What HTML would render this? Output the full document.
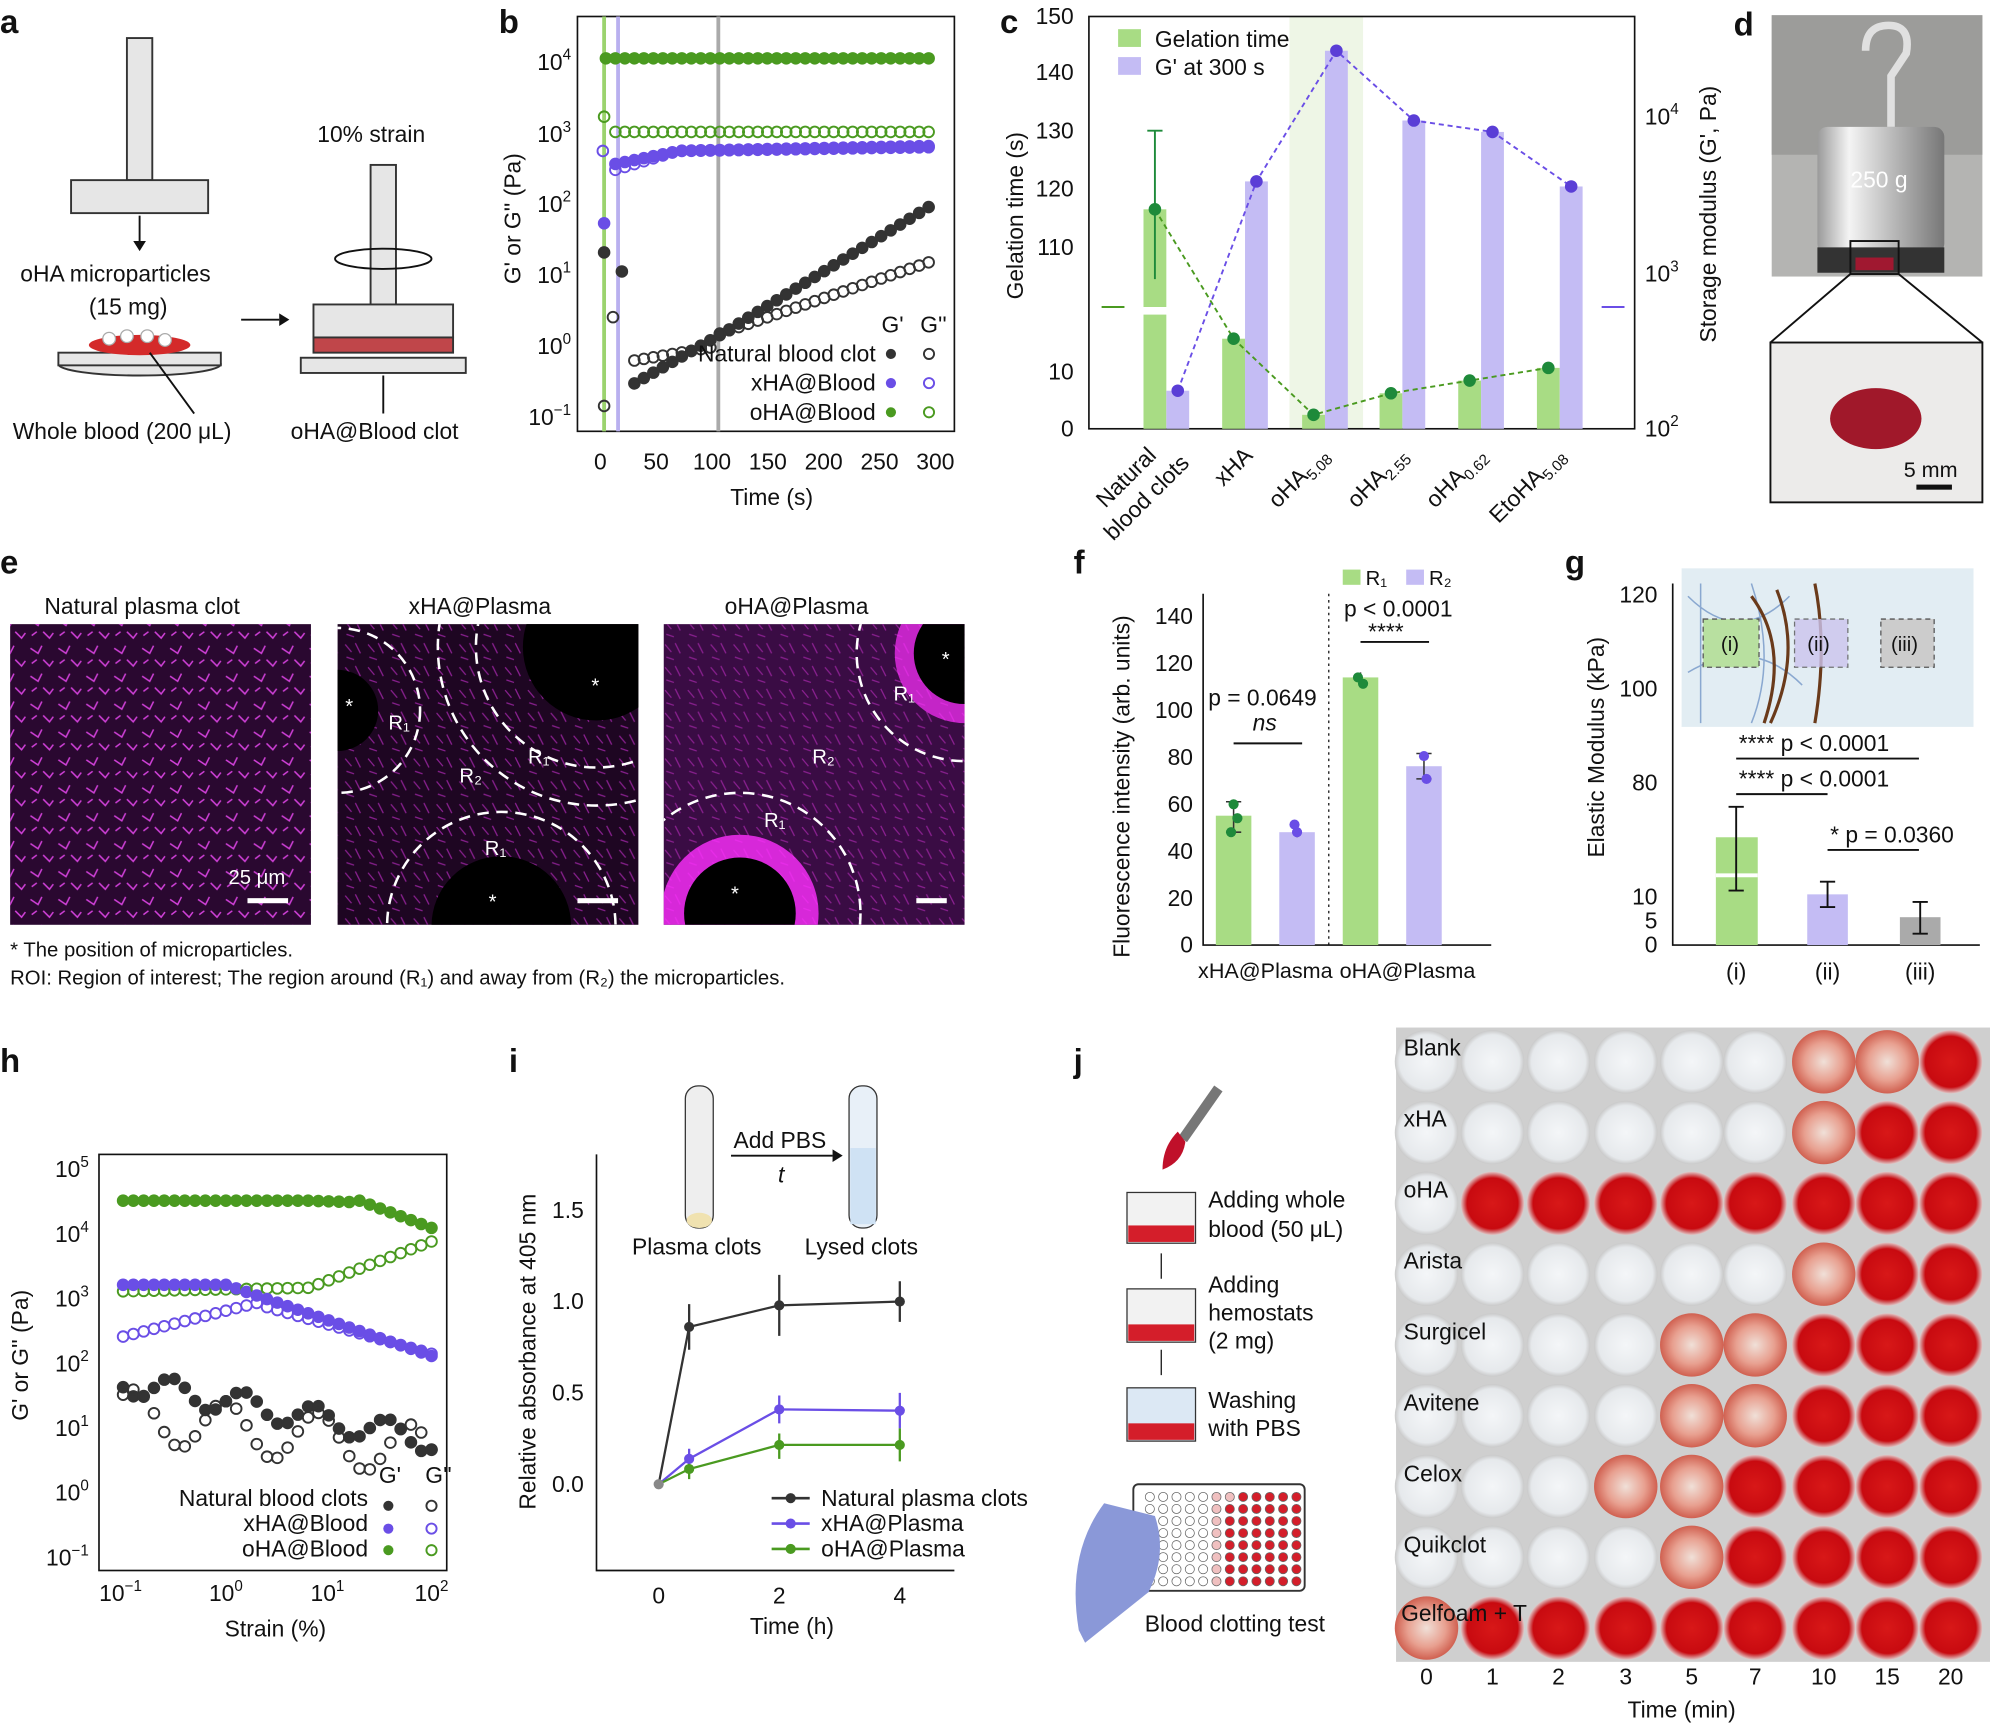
<!DOCTYPE html>
<html><head><meta charset="utf-8"><style>
html,body{margin:0;padding:0;background:#fff}
svg{display:block}
text{font-family:"Liberation Sans",sans-serif;fill:#111}
.pl{font-size:26px;font-weight:bold}
.t{font-size:18px}
.s{font-size:16px}
</style></head><body>
<svg id="S" width="1990" height="1724" viewBox="0 0 1568 1359" preserveAspectRatio="none" xmlns="http://www.w3.org/2000/svg">
<defs>
<radialGradient id="rw"><stop offset="0" stop-color="#d81818"/><stop offset="0.8" stop-color="#c80a10"/><stop offset="1" stop-color="#e0c8c8"/></radialGradient>
<radialGradient id="cw"><stop offset="0" stop-color="#f4f6f8"/><stop offset="0.85" stop-color="#e6e9ec"/><stop offset="1" stop-color="#c9c9c9"/></radialGradient>
<radialGradient id="pw"><stop offset="0" stop-color="#f0e0d8"/><stop offset="0.6" stop-color="#e8a090"/><stop offset="1" stop-color="#d06050"/></radialGradient>
<linearGradient id="sil" x1="0" x2="1"><stop offset="0" stop-color="#9a9a9a"/><stop offset="0.25" stop-color="#f4f4f4"/><stop offset="0.6" stop-color="#b8b8b8"/><stop offset="1" stop-color="#777"/></linearGradient>
<pattern id="fib" width="22" height="22" patternUnits="userSpaceOnUse"><path d="M2 5l6 4 3-6M12 14l5 5 3-4M3 17l4-3" stroke="#d040d8" stroke-width="1.2" fill="none"/></pattern>
<pattern id="fib2" width="18" height="18" patternUnits="userSpaceOnUse"><path d="M2 4l5 6M10 3l4 8M3 14l6 2" stroke="#8a2090" stroke-width="1" fill="none"/></pattern>
</defs>
<text class="pl" x="0" y="26">a</text><text class="pl" x="393" y="26">b</text><text class="pl" x="788" y="26">c</text><text class="pl" x="1366" y="28">d</text>
<text class="pl" x="0" y="452">e</text><text class="pl" x="846" y="452">f</text><text class="pl" x="1233" y="452">g</text>
<text class="pl" x="0" y="845">h</text><text class="pl" x="401" y="845">i</text><text class="pl" x="846" y="845">j</text>

<!-- panel a -->
<g stroke="#333" stroke-width="1.5" fill="#e6e6e6">
<rect x="100" y="30" width="20" height="112"/><rect x="56" y="142" width="108" height="26"/>
<ellipse cx="110" cy="287" rx="64" ry="9"/><rect x="46" y="278" width="128" height="10"/>
<rect x="292" y="130" width="20" height="110"/><rect x="247" y="240" width="110" height="26"/>
<rect x="247" y="266" width="110" height="12" fill="#c0464a"/>
<rect x="237" y="282" width="130" height="12"/>
</g>
<ellipse cx="110" cy="272" rx="40" ry="8" fill="#d42a2a"/>
<g fill="#fff" stroke="#aaa"><circle cx="86" cy="267" r="5"/><circle cx="100" cy="265" r="5"/><circle cx="116" cy="265" r="5"/><circle cx="130" cy="268" r="5"/></g>
<path d="M110 170v22" stroke="#111" stroke-width="1.5"/>
<path d="M105 190l5 8 5-8z" fill="#111"/>
<ellipse cx="302" cy="204" rx="38" ry="8" fill="none" stroke="#111" stroke-width="1.5"/>
<path d="M190 252h30" stroke="#111" stroke-width="1.5"/><path d="M220 247l8 5-8 5z" fill="#111"/>
<path d="M118 278l35 48M302 296v30" stroke="#111" stroke-width="1.5"/>
<text class="t" x="250" y="112">10% strain</text>
<text class="t" x="16" y="222">oHA microparticles</text><text class="t" x="70" y="248">(15 mg)</text>
<text class="t" x="10" y="346">Whole blood (200 μL)</text><text class="t" x="229" y="346">oHA@Blood clot</text>

<!-- panel b -->
<rect x="455" y="13" width="297" height="327" fill="none" stroke="#111" stroke-width="1.3"/>
<line x1="476" y1="13" x2="476" y2="340" stroke="#9bd36e" stroke-width="3"/>
<line x1="487" y1="13" x2="487" y2="340" stroke="#b9b0ef" stroke-width="3"/>
<line x1="566" y1="13" x2="566" y2="340" stroke="#aaa" stroke-width="3"/>
<g id="bpts"></g>
<g class="t" text-anchor="end">
<text x="450" y="55">10<tspan font-size="12" dy="-8">4</tspan></text><text x="450" y="112">10<tspan font-size="12" dy="-8">3</tspan></text>
<text x="450" y="167">10<tspan font-size="12" dy="-8">2</tspan></text><text x="450" y="223">10<tspan font-size="12" dy="-8">1</tspan></text>
<text x="450" y="279">10<tspan font-size="12" dy="-8">0</tspan></text><text x="450" y="335">10<tspan font-size="12" dy="-8">−1</tspan></text>
</g>
<g class="t" text-anchor="middle"><text x="473" y="370">0</text><text x="517" y="370">50</text><text x="561" y="370">100</text><text x="605" y="370">150</text><text x="649" y="370">200</text><text x="693" y="370">250</text><text x="737" y="370">300</text>
<text x="608" y="398">Time (s)</text></g>
<text class="t" transform="translate(410 224) rotate(-90)">G' or G'' (Pa)</text>
<g class="t" text-anchor="end"><text x="712" y="262">G'</text><text x="746" y="262">G''</text>
<text x="690" y="285">Natural blood clot</text><text x="690" y="308">xHA@Blood</text><text x="690" y="331">oHA@Blood</text></g>
<circle cx="702" cy="279" r="4" fill="#333"/><circle cx="732" cy="279" r="4" fill="none" stroke="#333" stroke-width="1.5"/>
<circle cx="702" cy="302" r="4" fill="#6a4ee6"/><circle cx="732" cy="302" r="4" fill="none" stroke="#6a4ee6" stroke-width="1.5"/>
<circle cx="702" cy="325" r="4" fill="#4a9a20"/><circle cx="732" cy="325" r="4" fill="none" stroke="#4a9a20" stroke-width="1.5"/>

<!-- panel c -->
<rect x="1016" y="13" width="58" height="325" fill="#eef6e6"/>
<rect x="858" y="13" width="430" height="325" fill="none" stroke="#111" stroke-width="1.3"/>
<g id="cbars"></g>
<g class="t" text-anchor="end"><text x="846" y="19">150</text><text x="846" y="63">140</text><text x="846" y="109">130</text><text x="846" y="155">120</text><text x="846" y="201">110</text><text x="846" y="299">10</text><text x="846" y="344">0</text></g>
<g class="t"><text x="1296" y="344">10<tspan font-size="12" dy="-8">2</tspan></text><text x="1296" y="222">10<tspan font-size="12" dy="-8">3</tspan></text><text x="1296" y="98">10<tspan font-size="12" dy="-8">4</tspan></text></g>
<text class="t" transform="translate(806 236) rotate(-90)">Gelation time (s)</text>
<text class="t" transform="translate(1352 270) rotate(-90)">Storage modulus (G', Pa)</text>
<rect x="881" y="23" width="18" height="14" fill="#a8dc84"/><text class="t" x="910" y="37">Gelation time</text>
<rect x="881" y="45" width="18" height="14" fill="#c4bcf4"/><text class="t" x="910" y="59">G' at 300 s</text>
<path d="M868 242h18" stroke="#4a9a20" stroke-width="1.5"/>
<path d="M1262 242h18" stroke="#6a4ee6" stroke-width="1.5"/>
<g class="t" text-anchor="end">
<text transform="translate(912 360) rotate(-45)">Natural</text><text transform="translate(938 366) rotate(-45)">blood clots</text>
<text transform="translate(988 360) rotate(-45)">xHA</text>
<text transform="translate(1048 360) rotate(-45)">oHA<tspan font-size="12" dy="4">5.08</tspan></text>
<text transform="translate(1110 360) rotate(-45)">oHA<tspan font-size="12" dy="4">2.55</tspan></text>
<text transform="translate(1172 360) rotate(-45)">oHA<tspan font-size="12" dy="4">0.62</tspan></text>
<text transform="translate(1234 360) rotate(-45)">EtoHA<tspan font-size="12" dy="4">5.08</tspan></text>
</g>

<!-- panel d -->
<rect x="1396" y="12" width="166" height="206" fill="#b4b4b2"/>
<rect x="1396" y="12" width="166" height="110" fill="#9c9c9a"/>
<path d="M1470 40q0-20 18-20t14 22l-12 18v40" stroke="#e0e0e0" stroke-width="6" fill="none"/>
<rect x="1432" y="100" width="100" height="100" rx="8" fill="url(#sil)"/>
<rect x="1432" y="195" width="100" height="20" fill="#333"/>
<rect x="1462" y="203" width="30" height="10" fill="#a01830"/>
<text x="1458" y="148" font-size="18" style="fill:#fff">250 g</text>
<rect x="1458" y="190" width="38" height="26" fill="none" stroke="#111" stroke-width="1.5"/>
<path d="M1458 216L1395 270M1496 216L1562 270" stroke="#111" stroke-width="1.5"/>
<rect x="1395" y="270" width="167" height="126" fill="#ecebea" stroke="#111" stroke-width="1.5"/>
<ellipse cx="1478" cy="330" rx="36" ry="24" fill="#a0182a"/>
<text x="1500" y="376" font-size="17">5 mm</text><rect x="1510" y="382" width="28" height="4" fill="#111"/>

<!-- panel e -->
<text class="t" x="35" y="484">Natural plasma clot</text><text class="t" x="322" y="484">xHA@Plasma</text><text class="t" x="571" y="484">oHA@Plasma</text>
<rect x="8" y="492" width="237" height="237" fill="#2a0830"/><rect x="8" y="492" width="237" height="237" fill="url(#fib)"/>
<rect x="266" y="492" width="237" height="237" fill="#1e0622"/><rect x="266" y="492" width="237" height="237" fill="url(#fib2)"/>
<rect x="523" y="492" width="237" height="237" fill="#3a0c44"/><rect x="523" y="492" width="237" height="237" fill="url(#fib2)"/>
<clipPath id="e2"><rect x="266" y="492" width="237" height="237"/></clipPath>
<clipPath id="e3"><rect x="523" y="492" width="237" height="237"/></clipPath>
<g clip-path="url(#e2)"><circle cx="266" cy="560" r="32" fill="#000"/><circle cx="470" cy="510" r="58" fill="#000"/><circle cx="395" cy="730" r="55" fill="#000"/>
<g stroke="#fff" stroke-dasharray="9 6" stroke-width="2" fill="none"><circle cx="266" cy="560" r="65"/><circle cx="470" cy="510" r="95"/><circle cx="395" cy="730" r="90"/><circle cx="470" cy="510" r="125"/></g></g>
<g clip-path="url(#e3)"><circle cx="583" cy="720" r="62" fill="#ff30ff" opacity="0.8"/><circle cx="583" cy="720" r="44" fill="#000"/><circle cx="760" cy="515" r="55" fill="#ff30ff" opacity="0.7"/><circle cx="760" cy="515" r="40" fill="#000"/>
<g stroke="#fff" stroke-dasharray="9 6" stroke-width="2" fill="none"><circle cx="583" cy="720" r="95"/><circle cx="760" cy="515" r="85"/></g></g>
<g font-size="16"><text x="180" y="697" style="fill:#fff">25 μm</text>
<text x="306" y="575" style="fill:#fff">R₁</text><text x="362" y="617" style="fill:#fff">R₂</text><text x="416" y="602" style="fill:#fff">R₁</text><text x="382" y="674" style="fill:#fff">R₁</text>
<text x="704" y="552" style="fill:#fff">R₁</text><text x="640" y="602" style="fill:#fff">R₂</text><text x="602" y="652" style="fill:#fff">R₁</text>
<text x="272" y="562" style="fill:#fff">*</text><text x="466" y="546" style="fill:#fff">*</text><text x="385" y="716" style="fill:#fff">*</text><text x="576" y="710" style="fill:#fff">*</text><text x="742" y="525" style="fill:#fff">*</text></g>
<rect x="195" y="708" width="32" height="4" fill="#fff"/><rect x="455" y="708" width="32" height="4" fill="#fff"/><rect x="722" y="708" width="24" height="4" fill="#fff"/>
<text class="s" x="8" y="754">* The position of microparticles.</text>
<text class="s" x="8" y="776">ROI: Region of interest; The region around (R₁) and away from (R₂) the microparticles.</text>

<!-- panel f -->
<path d="M948 468V745H1175" fill="none" stroke="#111" stroke-width="1.3"/>
<line x1="1047" y1="468" x2="1047" y2="745" stroke="#111" stroke-dasharray="2 3"/>
<rect x="958" y="643" width="28" height="102" fill="#a8dc84"/><rect x="1008" y="656" width="28" height="89" fill="#c4bcf4"/>
<rect x="1058" y="534" width="28" height="211" fill="#a8dc84"/><rect x="1108" y="604" width="28" height="141" fill="#c4bcf4"/>
<path d="M972 632v24M966 632h12M966 656h12M1022 648v12M1072 530v8M1122 594v20M1116 594h12M1116 614h12" stroke="#333" stroke-width="1.2"/>
<g fill="#1e8a3a"><circle cx="972" cy="634" r="4"/><circle cx="970" cy="656" r="4"/><circle cx="975" cy="645" r="4"/><circle cx="1070" cy="534" r="4"/><circle cx="1074" cy="539" r="4"/></g>
<g fill="#6a4ee6"><circle cx="1022" cy="656" r="4"/><circle cx="1020" cy="650" r="4"/><circle cx="1122" cy="596" r="4"/><circle cx="1124" cy="614" r="4"/></g>
<g class="t" text-anchor="end"><text x="940" y="751">0</text><text x="940" y="714">20</text><text x="940" y="677">40</text><text x="940" y="640">60</text><text x="940" y="603">80</text><text x="940" y="566">100</text><text x="940" y="529">120</text><text x="940" y="492">140</text></g>
<text class="t" transform="translate(890 755) rotate(-90)">Fluorescence intensity (arb. units)</text>
<text class="t" x="952" y="556">p = 0.0649</text><text class="t" x="987" y="576" font-style="italic">ns</text><line x1="972" y1="586" x2="1026" y2="586" stroke="#111" stroke-width="1.5"/>
<text class="t" x="1059" y="486">p &lt; 0.0001</text><text class="t" x="1078" y="504">****</text><line x1="1072" y1="506" x2="1126" y2="506" stroke="#111" stroke-width="1.5"/>
<rect x="1058" y="449" width="14" height="12" fill="#a8dc84"/><text class="s" x="1076" y="461">R₁</text>
<rect x="1108" y="449" width="14" height="12" fill="#c4bcf4"/><text class="s" x="1126" y="461">R₂</text>
<g font-size="17" text-anchor="middle"><text x="997" y="771">xHA@Plasma</text><text x="1109" y="771">oHA@Plasma</text></g>

<!-- panel g -->
<path d="M1318 460V745H1560" fill="none" stroke="#111" stroke-width="1.3"/>
<rect x="1325" y="448" width="230" height="125" fill="#dbe8f0" opacity="0.8"/>
<g stroke="#8aa8d0" fill="none" stroke-width="1.2"><path d="M1330 470q40 40 80 0M1330 530q50-30 90 10M1340 460v110M1380 460q20 60 0 110"/></g>
<path d="M1380 470q30 40 10 100M1400 465q20 50 -5 105M1430 460q10 50 0 110" stroke="#6a3a1a" stroke-width="2.5" fill="none"/>
<rect x="1342" y="488" width="44" height="38" fill="#b8e0a0" stroke="#555" stroke-dasharray="4 3"/><text class="s" x="1356" y="513">(i)</text>
<rect x="1414" y="488" width="42" height="38" fill="#ccc4ee" opacity="0.8" stroke="#555" stroke-dasharray="4 3"/><text class="s" x="1424" y="513">(ii)</text>
<rect x="1482" y="488" width="42" height="38" fill="#ccc" stroke="#555" stroke-dasharray="4 3"/><text class="s" x="1490" y="513">(iii)</text>
<rect x="1352" y="660" width="33" height="85" fill="#a8dc84"/><line x1="1352" y1="690" x2="1385" y2="690" stroke="#fff" stroke-width="3"/>
<rect x="1424" y="705" width="32" height="40" fill="#c4bcf4"/><rect x="1497" y="723" width="32" height="22" fill="#aaa"/>
<path d="M1368 636v66M1362 636h12M1362 702h12M1440 695v20M1434 695h12M1434 715h12M1513 711v25M1507 711h12M1507 736h12" stroke="#111" stroke-width="1.5"/>
<g class="t" text-anchor="end"><text x="1306" y="475">120</text><text x="1306" y="549">100</text><text x="1306" y="623">80</text><text x="1306" y="713">10</text><text x="1306" y="732">5</text><text x="1306" y="751">0</text></g>
<text class="t" transform="translate(1264 676) rotate(-90)">Elastic Modulus (kPa)</text>
<text class="t" x="1370" y="592">****  p &lt; 0.0001</text><line x1="1368" y1="598" x2="1512" y2="598" stroke="#111" stroke-width="1.5"/>
<text class="t" x="1370" y="620">****  p &lt; 0.0001</text><line x1="1368" y1="626" x2="1440" y2="626" stroke="#111" stroke-width="1.5"/>
<text class="t" x="1442" y="664">*  p = 0.0360</text><line x1="1440" y1="670" x2="1512" y2="670" stroke="#111" stroke-width="1.5"/>
<g class="t" text-anchor="middle"><text x="1368" y="772">(i)</text><text x="1440" y="772">(ii)</text><text x="1513" y="772">(iii)</text></g>

<!-- panel h -->
<rect x="78" y="910" width="274" height="328" fill="none" stroke="#111" stroke-width="1.3"/>
<g id="hpts"></g>
<g class="t" text-anchor="end">
<text x="70" y="928">10<tspan font-size="12" dy="-8">5</tspan></text><text x="70" y="979">10<tspan font-size="12" dy="-8">4</tspan></text>
<text x="70" y="1030">10<tspan font-size="12" dy="-8">3</tspan></text><text x="70" y="1081">10<tspan font-size="12" dy="-8">2</tspan></text>
<text x="70" y="1132">10<tspan font-size="12" dy="-8">1</tspan></text><text x="70" y="1183">10<tspan font-size="12" dy="-8">0</tspan></text>
<text x="70" y="1234">10<tspan font-size="12" dy="-8">−1</tspan></text></g>
<g class="t" text-anchor="middle"><text x="95" y="1262">10<tspan font-size="12" dy="-8">−1</tspan></text><text x="178" y="1262">10<tspan font-size="12" dy="-8">0</tspan></text><text x="258" y="1262">10<tspan font-size="12" dy="-8">1</tspan></text><text x="340" y="1262">10<tspan font-size="12" dy="-8">2</tspan></text>
<text x="217" y="1290">Strain (%)</text></g>
<text class="t" transform="translate(22 1120) rotate(-90)">G' or G'' (Pa)</text>
<g class="t" text-anchor="end"><text x="316" y="1169">G'</text><text x="356" y="1169">G''</text>
<text x="290" y="1187">Natural blood clots</text><text x="290" y="1207">xHA@Blood</text><text x="290" y="1227">oHA@Blood</text></g>
<circle cx="306" cy="1187" r="4" fill="#333"/><circle cx="340" cy="1187" r="4" fill="none" stroke="#333" stroke-width="1.5"/>
<circle cx="306" cy="1205" r="4" fill="#6a4ee6"/><circle cx="340" cy="1205" r="4" fill="none" stroke="#6a4ee6" stroke-width="1.5"/>
<circle cx="306" cy="1222" r="4" fill="#4a9a20"/><circle cx="340" cy="1222" r="4" fill="none" stroke="#4a9a20" stroke-width="1.5"/>

<!-- panel i -->
<path d="M470 910V1238H752" fill="none" stroke="#111" stroke-width="1.3"/>
<rect x="540" y="856" width="22" height="112" rx="10" fill="#eee" stroke="#333"/><ellipse cx="551" cy="962" rx="10" ry="6" fill="#f0e2b0"/>
<rect x="669" y="856" width="22" height="112" rx="10" fill="#e8f0f8" stroke="#333"/><rect x="670" y="905" width="20" height="60" fill="#cfe2f4"/>
<text class="t" x="578" y="905">Add PBS</text><line x1="576" y1="911" x2="656" y2="911" stroke="#111" stroke-width="1.5"/><path d="M656 906l8 5-8 5z" fill="#111"/><text class="t" x="613" y="932" font-style="italic">t</text>
<text class="t" x="498" y="989">Plasma clots</text><text class="t" x="634" y="989">Lysed clots</text>
<g class="t" text-anchor="end"><text x="460" y="1176">0.0</text><text x="460" y="1104">0.5</text><text x="460" y="1032">1.0</text><text x="460" y="960">1.5</text></g>
<g class="t" text-anchor="middle"><text x="519" y="1264">0</text><text x="614" y="1264">2</text><text x="709" y="1264">4</text><text x="624" y="1288">Time (h)</text></g>
<text class="t" transform="translate(422 1190) rotate(-90)">Relative absorbance at 405 nm</text>
<g fill="none" stroke-width="1.8">
<polyline points="519,1170 543,1046 614,1029 709,1026" stroke="#333"/>
<polyline points="519,1170 543,1150 614,1111 709,1112" stroke="#6a4ee6"/>
<polyline points="519,1170 543,1158 614,1139 709,1139" stroke="#4a9a20"/>
<path d="M543 1028v36M614 1005v48M709 1010v32" stroke="#333"/>
<path d="M614 1100v22M709 1098v28M543 1142v16" stroke="#6a4ee6"/>
<path d="M614 1130v20M709 1126v26M543 1150v16" stroke="#4a9a20"/>
</g>
<g><circle cx="519" cy="1170" r="4" fill="#888"/><circle cx="543" cy="1046" r="4" fill="#333"/><circle cx="614" cy="1029" r="4" fill="#333"/><circle cx="709" cy="1026" r="4" fill="#333"/>
<circle cx="543" cy="1150" r="4" fill="#6a4ee6"/><circle cx="614" cy="1111" r="4" fill="#6a4ee6"/><circle cx="709" cy="1112" r="4" fill="#6a4ee6"/>
<circle cx="543" cy="1158" r="4" fill="#4a9a20"/><circle cx="614" cy="1139" r="4" fill="#4a9a20"/><circle cx="709" cy="1139" r="4" fill="#4a9a20"/></g>
<path d="M608 1181h30" stroke="#333" stroke-width="2"/><circle cx="623" cy="1181" r="4" fill="#333"/><text class="t" x="647" y="1187">Natural plasma clots</text>
<path d="M608 1201h30" stroke="#6a4ee6" stroke-width="2"/><circle cx="623" cy="1201" r="4" fill="#6a4ee6"/><text class="t" x="647" y="1207">xHA@Plasma</text>
<path d="M608 1221h30" stroke="#4a9a20" stroke-width="2"/><circle cx="623" cy="1221" r="4" fill="#4a9a20"/><text class="t" x="647" y="1227">oHA@Plasma</text>

<!-- panel j -->
<path d="M960 858l-28 40" stroke="#777" stroke-width="8"/><path d="M916 922q0-18 12-30l6 8q-2 16-18 22z" fill="#c0102a"/>
<rect x="888" y="940" width="54" height="40" fill="#f2f2f2" stroke="#333"/><rect x="889" y="966" width="52" height="13" fill="#d41e2a"/>
<rect x="888" y="1016" width="54" height="42" fill="#f2f2f2" stroke="#333"/><rect x="889" y="1044" width="52" height="13" fill="#d41e2a"/>
<rect x="888" y="1094" width="54" height="42" fill="#dce8f4" stroke="#333"/><rect x="889" y="1122" width="52" height="13" fill="#d41e2a"/>
<path d="M915 988v20M915 1064v20" stroke="#111"/>
<text class="t" x="952" y="952">Adding whole</text><text class="t" x="952" y="975">blood (50 μL)</text>
<text class="t" x="952" y="1019">Adding</text><text class="t" x="952" y="1041">hemostats</text><text class="t" x="952" y="1063">(2 mg)</text>
<text class="t" x="952" y="1110">Washing</text><text class="t" x="952" y="1132">with PBS</text>
<rect x="893" y="1170" width="135" height="84" rx="4" fill="#fff" stroke="#333" stroke-width="1.5"/>
<g id="plate"></g>
<path d="M850 1285q-10-60 20-100l40 10q10 30-5 60l-50 40z" fill="#8a98d8"/>
<text class="t" x="902" y="1286">Blood clotting test</text>
<g id="wells"></g>
<g class="t">
<text x="1106" y="832">Blank</text><text x="1106" y="888">xHA</text><text x="1106" y="944">oHA</text><text x="1106" y="1000">Arista</text><text x="1106" y="1056">Surgicel</text><text x="1106" y="1112">Avitene</text><text x="1106" y="1168">Celox</text><text x="1106" y="1224">Quikclot</text><text x="1104" y="1278">Gelfoam + T</text></g>
<g class="t" text-anchor="middle"><text x="1124" y="1328">0</text><text x="1176" y="1328">1</text><text x="1228" y="1328">2</text><text x="1281" y="1328">3</text><text x="1333" y="1328">5</text><text x="1383" y="1328">7</text><text x="1437" y="1328">10</text><text x="1487" y="1328">15</text><text x="1537" y="1328">20</text><text x="1325" y="1354">Time (min)</text></g>
</svg>
<script>
var NS="http://www.w3.org/2000/svg";
function el(p,t,a){var e=document.createElementNS(NS,t);for(var k in a)e.setAttribute(k,a[k]);var g=document.getElementById(p);g.appendChild(e);return e;}
function dot(p,x,y,c,open){el(p,'circle',{cx:x,cy:y,r:4.2,fill:open?'none':c,stroke:c,'stroke-width':1.5});}
var X=function(t){return 473+t*0.88};
for(var t=5;t<=300;t+=8.5){
 dot('bpts',X(t),46,'#4a9a20',false);
 if(t>10){dot('bpts',X(t),104,'#4a9a20',true);
 var f=Math.min(1,(t-10)/60);dot('bpts',X(t),130-10*f-4*(t/300),'#6a4ee6',false);dot('bpts',X(t),135-15*f-5*(t/300),'#6a4ee6',true);}
 if(t>25){var yb=t<100?(305-(t-25)*0.5):(268-(t-100)*0.54);dot('bpts',X(t),yb,'#333',false);
 var yo=t<100?(285-(t-25)*0.15):(265-(t-100)*0.3);dot('bpts',X(t),yo,'#333',true);}
}
dot('bpts',476,92,'#4a9a20',true);dot('bpts',475,119,'#6a4ee6',true);dot('bpts',476,176,'#6a4ee6',false);dot('bpts',476,199,'#333',false);dot('bpts',476,320,'#333',true);dot('bpts',483,250,'#333',true);dot('bpts',490,214,'#333',false);
var cx=[910,972,1035,1096,1158,1220],gt=[165,267,327,310,300,290],pt=[308,143,40,95,104,147];
for(var i=0;i<6;i++){el('cbars','rect',{x:cx[i]-9,y:gt[i],width:18,height:338-gt[i],fill:'#a8dc84'});el('cbars','rect',{x:cx[i]+9,y:pt[i],width:18,height:338-pt[i],fill:'#c4bcf4'});}
el('cbars','rect',{x:895,y:242,width:30,height:6,fill:'#fff'});
el('cbars','path',{d:'M910 103v117M904 103h12',stroke:'#1e8a3a','stroke-width':1.5});
el('cbars','polyline',{points:cx.map(function(x,i){return x+','+gt[i]}).join(' '),fill:'none',stroke:'#4a9a20','stroke-dasharray':'4 3','stroke-width':1.5});
el('cbars','polyline',{points:cx.map(function(x,i){return (x+18)+','+pt[i]}).join(' '),fill:'none',stroke:'#6a4ee6','stroke-dasharray':'4 3','stroke-width':1.5});
for(var i=0;i<6;i++){dot('cbars',cx[i],gt[i],'#1e8a3a');dot('cbars',cx[i]+18,pt[i],'#5a3ed6');}
function HX(l){return 178+l*81} function HY(l){return 1176-l*51}
for(var l=-1;l<=2.01;l+=0.1){
 var gg=l<1.3?4.5-0.05*Math.max(0,l-0.8):4.5-0.6*(l-1.3);
 dot('hpts',HX(l),HY(gg),'#4a9a20',false);
 var go=l<0.8?3.1+0.03*(l+1):3.15+0.6*(l-0.8);dot('hpts',HX(l),HY(go),'#4a9a20',true);
 var bx=l<0?3.2:3.2-0.55*l;dot('hpts',HX(l),HY(bx),'#6a4ee6',false);
 var bo=l<0.3?2.4+0.4*(l+1):2.9-0.45*(l-0.3);dot('hpts',HX(l),HY(Math.max(1.6,bo)),'#6a4ee6',true);
 dot('hpts',HX(l),HY(1.7-0.3*(l+1)+0.2*Math.sin(l*9)),'#333',false);
 dot('hpts',HX(l),HY(1.2-0.2*(l+1)+0.4*Math.cos(l*7)),'#333',true);
}
for(var r=0;r<8;r++)for(var c=0;c<12;c++){var red=(c>=7)||(c>=6&&r>0);el('plate','circle',{cx:906+c*10.5,cy:1180+r*9.5,r:3.6,fill:red?'#d41e2a':(c>=5?'#f0c0c0':'#fff'),stroke:'#666','stroke-width':0.6});}
var M=["ccccccppr","ccccccprr","crrrrrrrr","ccccccprr","ccccpprrr","ccccpprrr","cccpprrrr","ccccprrrr","prrrrrrrr"];
var wx=[1124,1176,1228,1281,1333,1383,1437,1487,1537];
el('wells','rect',{x:1100,y:810,width:468,height:500,fill:'#cfcfcf'});
for(var r=0;r<9;r++)for(var c=0;c<9;c++){var k=M[r][c];var f=k=='r'?'url(#rw)':k=='p'?'url(#pw)':'url(#cw)';el('wells','circle',{cx:wx[c],cy:837+r*55.8,r:25,fill:f});}
</script>
</body></html>
